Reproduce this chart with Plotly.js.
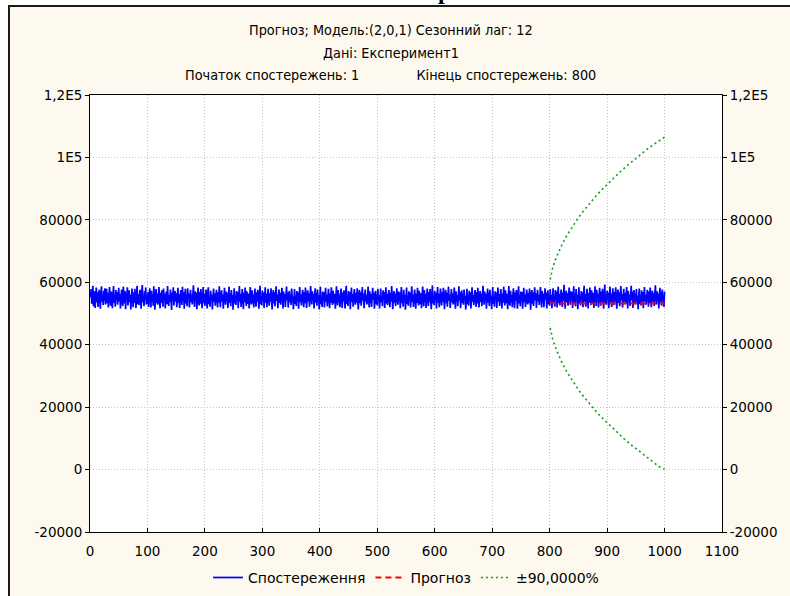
<!DOCTYPE html>
<html>
<head>
<meta charset="utf-8">
<script src="https://cdn.plot.ly/plotly-3.0.1.min.js"></script>
<style>
html,body{margin:0;padding:0;background:#ffffff;width:790px;height:596px;overflow:hidden;}
#frame{position:absolute;left:8px;top:5px;width:782px;height:591px;background:#fdf9ee;border-left:2px solid #1a1a1a;border-top:2px solid #1a1a1a;}
#cut{position:absolute;left:438px;top:-22px;font-family:"Liberation Serif","DejaVu Serif",serif;font-weight:bold;font-size:24px;color:#000;}
#chart{position:absolute;left:0;top:0;width:790px;height:596px;}
</style>
</head>
<body>
<div id="frame"></div>
<div id="cut">р</div>
<div id="chart"></div>
<script>
// Observed series (obs. 1..1000)
const observed = [
55200,57800,53100,56400,58900,52300,54700,57100,51800,55900,58300,53600,56800,52100,54400,57600,55000,51500,56200,58700,53800,55500,52700,57300,54100,58100,52900,55700,57900,53300,56600,51900,54900,58500,55300,52500,57000,54600,51700,56100,58800,53500,55800,52200,57500,54300,56900,52800,55100,58200,
53900,56300,51600,55600,57700,54000,52400,58600,55400,53200,57200,51400,56500,54800,58400,52600,55000,57400,53700,56000,51300,54500,58000,55900,52000,56700,53400,57900,54200,51800,55700,58900,53000,56200,52700,55300,57600,54700,51500,56800,59100,53600,55200,52300,57100,54400,58300,52900,55800,53100,
56900,52100,54600,58100,55500,51900,57300,53800,56100,52500,58700,54900,51200,55600,57800,53300,56400,52800,55000,58500,54100,51700,56600,53500,57400,55200,52200,58000,54500,56300,51600,55900,57000,53000,58800,54800,52400,56000,53700,57700,55400,51100,56700,54200,58400,52600,55100,57200,53900,56500,
52000,55800,58200,53400,56200,51800,54300,57500,55700,52700,58600,54000,56800,51500,55300,57900,53200,55900,52300,58100,54700,56400,51900,55500,57600,53600,56100,52900,54800,59000,55000,52100,57100,53800,56600,51400,55200,58300,54400,52600,56900,53100,57800,55600,51700,54600,58500,53300,56300,52400,
55100,57700,54200,51600,56700,58400,53000,55400,52200,57300,54900,56000,51300,55800,58000,53700,56500,52500,54100,57600,55300,51900,56800,53500,58700,54500,52000,55700,57400,53900,56100,51500,54700,58200,55500,52800,57000,54000,56600,51800,55000,58600,53400,56300,52300,57500,54600,55900,51200,56400,
58100,53200,55600,52700,57200,54300,56900,51700,55200,58800,53800,56200,52100,54800,57800,55400,51400,56600,53600,58300,54100,52400,57100,55800,53100,56400,51600,55000,58500,54400,52900,57400,53300,56100,51900,55700,58000,54600,52200,56800,53700,57600,55300,51500,56000,58900,53000,55500,52600,57300,
54200,56700,51800,55900,58400,53500,56300,52000,54900,57900,55100,52500,56500,53900,58100,54700,51300,55600,57500,53200,56900,52300,55200,58700,54000,56100,51700,55400,57700,53400,56600,52800,54500,58200,55800,51600,57000,53800,56200,52100,55000,58600,54300,56800,51900,55300,57300,53600,56000,52700,
58000,54800,55500,51400,56400,57800,53100,55700,52400,57200,54100,56700,51500,55100,58500,53700,56100,52600,54600,57600,55900,52000,56900,53300,58300,54400,51800,55300,57400,53900,56500,52200,54900,58800,55600,52900,57100,54000,56300,51600,55400,58100,53500,56600,52500,57700,54700,55800,51300,56200,
58600,53000,55200,52100,57000,54500,56800,51900,55600,58200,53800,56000,52300,54200,57900,55000,51700,56500,53400,58400,54800,52700,57300,55500,53200,56300,51500,55100,58700,54300,52600,57500,53600,56100,52000,55800,58000,54600,51800,56700,53900,57400,55300,51600,56400,58900,53100,55700,52400,57200,
54000,56900,51400,55400,58300,53700,56200,52200,54700,57800,55200,52800,56600,53500,58100,54900,51300,55900,57600,53300,56800,52500,55000,58500,54100,56400,51700,55600,57700,53800,56000,52900,54400,58600,55700,51900,57100,53400,56300,52100,55100,58200,54500,56700,51500,55500,57300,53000,56100,52600,
57900,54200,55800,51600,56500,58000,53600,55300,52300,57400,54600,56900,51800,55000,58400,53200,56200,52700,54800,57500,55600,52000,56600,53900,58800,54300,51400,55200,57200,53500,56400,52400,54900,58100,55400,52800,57000,54100,56800,51700,55700,58500,53300,56000,52200,57600,54700,55900,51200,56300,
58300,53100,55500,52500,57100,54400,56700,51900,55100,58700,53700,56100,52100,54600,57700,55300,51500,56400,53400,58200,54000,52600,57300,55800,53000,56500,51700,55000,58600,54500,52300,57500,53800,56200,51800,55600,58000,54800,52400,56900,53600,57800,55200,51400,56000,59000,53200,55400,52700,57200,
54300,56600,51600,55700,58500,53500,56300,52000,54800,58000,55000,52600,56800,53700,58200,54600,51400,55500,57600,53300,56700,52200,55100,58600,54100,56100,51800,55300,57800,53600,56500,52900,54400,58300,55900,51500,57100,53900,56000,52300,55200,58700,54200,56900,51700,55400,57400,53400,56200,52800,
57700,54700,55600,51300,56600,57900,53000,55800,52500,57300,54000,56800,51600,55200,58400,53800,56000,52700,54500,57500,56000,52100,56900,53200,58200,54400,51900,55400,57200,53700,56400,52300,54900,58900,55500,52800,57000,54100,56300,51500,55300,58000,53500,56700,52400,57600,54800,55700,51400,56100,
58500,53100,55000,52200,57100,54600,56700,51800,55700,58300,53900,56200,52400,54300,57800,55100,51600,56400,53500,58600,54900,52600,57400,55600,53300,56300,51400,55200,58800,54200,52500,57300,53700,56000,52000,55900,58100,54500,51700,56800,54000,57500,55400,51500,56500,58700,53200,55800,52300,57000,
54100,56900,51500,55300,58200,53600,56100,52100,54700,57700,55300,52900,56600,53400,58000,54800,51200,55800,57500,53100,56800,52400,55100,58400,54200,56500,51800,55500,57600,53900,56000,52700,54500,58500,55600,51900,57200,53300,56400,52000,55200,58100,54400,56700,51600,55400,57400,53000,55900,52500,
57800,54300,55900,51700,56600,58100,53700,55400,52200,57500,54500,57000,51900,55100,58600,53300,56300,52600,54900,57700,55700,52100,56700,54000,59200,54400,51500,55300,57300,53600,56500,52500,55000,58300,55500,52800,57100,54200,56900,51800,55800,58700,53400,56100,52300,57800,54800,56000,51400,56400,
58400,53200,55600,52600,57200,54600,56800,52000,55200,58900,53800,56200,52200,54700,57900,55400,51600,56500,53500,58300,54100,52700,57400,55900,53100,56600,51800,55100,58700,54600,52400,57600,53900,56300,51900,55700,58200,54900,52500,57000,53700,57900,55300,51500,56100,59300,53300,55500,52800,57300,
54400,56700,51700,55800,58600,53600,56400,52100,54900,58100,55100,52700,56900,53800,58400,54700,51500,55600,57700,53400,56800,52300,55200,58800,54200,56200,51900,55400,57900,53700,56600,53000,54500,58500,56000,51600,57200,54000,56100,52400,55300,58900,54300,57000,51800,55500,57500,53500,56300,52900,
57800,54800,55700,51400,56700,58000,53100,55900,52600,57400,54100,56900,51700,55300,58500,53900,56100,52800,54600,57600,56100,52200,57000,53300,58300,54500,52000,55500,57300,53800,56500,52400,55000,59000,55600,52900,57100,54200,56400,51600,55400,58200,53600,56800,52500,57700,54900,55800,52100,57000
];

// Forecast (obs. 801..1000)
const forecastX = [801, 803, 805, 810, 820, 850, 900, 950, 1000];
const forecastY = [53500, 53300, 53250, 53200, 53200, 53200, 53200, 53200, 53200];

// 90% confidence bounds
const boundX = [801, 805, 810, 820, 830, 840, 850, 860, 870, 880, 890, 900, 910, 920, 930, 940, 950, 960, 970, 980, 990, 1000];
const upperY = [60900, 64400, 67200, 71500, 75000, 78000, 80700, 83100, 85400, 87500, 89500, 91400, 93200, 94900, 96600, 98200, 99700, 101200, 102700, 104000, 105400, 106500];
const lowerY = [45400, 42000, 39200, 34800, 31300, 28300, 25600, 23200, 20900, 18800, 16800, 15000, 13200, 11400, 9800, 8200, 6700, 5200, 3700, 2300, 1000, 100];

const titleLines = [
  "Прогноз; Модель:(2,0,1) Сезонний лаг: 12",
  "Дані: Експеримент1",
  "Початок спостережень: 1" + "\u00a0".repeat(14) + "Кінець спостережень: 800"
];
const yTickVals = [-20000, 0, 20000, 40000, 60000, 80000, 100000, 120000];
const yTickText = ["-20000", "0", "20000", "40000", "60000", "80000", "1E5", "1,2E5"];
const seriesNames = ["Спостереження", "Прогноз", "±90,0000%"];

const tickFont = {family: "DejaVu Sans, Verdana, sans-serif", size: 13.5, color: "#000"};
const titleFont = {family: "DejaVu Sans Condensed, Liberation Sans Narrow, Arial, sans-serif", size: 14.3, color: "#000"};

const traces = [
  {type: "scatter", mode: "lines", x0: 1, dx: 1, y: observed, name: seriesNames[0],
   line: {color: "#0000ff", width: 1.7}},
  {type: "scatter", mode: "lines", x: forecastX, y: forecastY, name: seriesNames[1],
   line: {color: "#ff0000", width: 2, dash: "6px,4px"}},
  {type: "scatter", mode: "lines", x: boundX, y: upperY, name: seriesNames[2], legendgroup: "ci",
   line: {color: "#11a011", width: 1.6, dash: "2px,3px"}},
  {type: "scatter", mode: "lines", x: boundX, y: lowerY, name: seriesNames[2], legendgroup: "ci", showlegend: false,
   line: {color: "#11a011", width: 1.6, dash: "2px,3px"}},
  {type: "scatter", mode: "lines", x: [null], y: [null], yaxis: "y2", showlegend: false, hoverinfo: "skip"}
];

const yRange = [-20000, 120000];
const layout = {
  width: 790, height: 596,
  margin: {l: 90, r: 68, t: 95, b: 64, autoexpand: false},
  paper_bgcolor: "rgba(0,0,0,0)",
  plot_bgcolor: "#ffffff",
  showlegend: true,
  xaxis: {
    range: [0, 1100], tick0: 0, dtick: 100,
    showline: true, linecolor: "#000", linewidth: 1, mirror: true,
    ticks: "inside", ticklen: 4, tickcolor: "#000",
    showgrid: true, gridcolor: "#c4c4c4", griddash: "1px,2px", gridwidth: 1,
    zeroline: false, tickfont: tickFont, ticklabelstandoff: 7
  },
  yaxis: {
    range: yRange, tickvals: yTickVals, ticktext: yTickText,
    showline: true, linecolor: "#000", linewidth: 1,
    ticks: "outside", ticklen: 4, tickcolor: "#000",
    showgrid: true, gridcolor: "#c4c4c4", griddash: "1px,2px", gridwidth: 1,
    zeroline: false, tickfont: tickFont
  },
  yaxis2: {
    overlaying: "y", side: "right", range: yRange, tickvals: yTickVals, ticktext: yTickText,
    showline: true, linecolor: "#000", linewidth: 1,
    ticks: "outside", ticklen: 4, tickcolor: "#000",
    showgrid: false, zeroline: false, tickfont: tickFont
  },
  legend: {
    orientation: "h", x: 0.5, xanchor: "center", y: -0.105, yanchor: "middle",
    font: {family: "DejaVu Sans, Verdana, sans-serif", size: 14, color: "#000"},
    bgcolor: "rgba(0,0,0,0)", itemwidth: 30
  },
  annotations: [
    {xref: "paper", yref: "paper", x: 0.476, y: 1.1487, yanchor: "middle", showarrow: false, text: titleLines[0], font: titleFont},
    {xref: "paper", yref: "paper", x: 0.476, y: 1.0961, yanchor: "middle", showarrow: false, text: titleLines[1], font: titleFont},
    {xref: "paper", yref: "paper", x: 0.476, y: 1.0458, yanchor: "middle", showarrow: false, text: titleLines[2], font: titleFont}
  ]
};

Plotly.newPlot("chart", traces, layout, {displayModeBar: false, staticPlot: true});
</script>
</body>
</html>
